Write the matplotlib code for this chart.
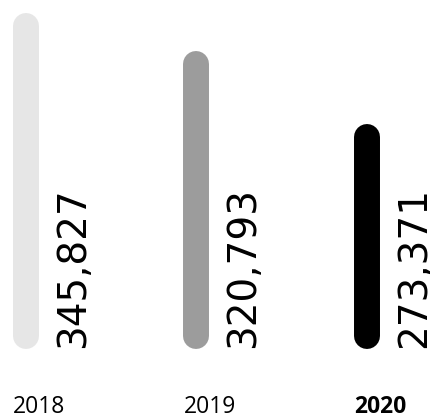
import matplotlib.pyplot as plt

# 数据
years = ['2018', '2019', '2020']
values = [345827, 320793, 273371]
colors = ['#e6e6e6', '#9c9c9c', '#000000']
bold_year = '2020'

base = 143000  # 柱子底部对应的数值

plt.rcParams['font.family'] = ['Open Sans', 'DejaVu Sans']

fig = plt.figure(figsize=(4.31, 4.19), dpi=100)
ax = fig.add_axes([0, 0, 1, 1])
ax.set_xlim(-0.1496, 2.378)
ax.set_ylim(89000, 362800)
ax.axis('off')

for i, v in enumerate(values):
    # 圆头竖条
    ax.plot([i, i], [base, v], color=colors[i], linewidth=18.7,
            solid_capstyle='round')
    ax.annotate(f'{v:,}', xy=(i, base), xytext=(20.5, -8.5),
                textcoords='offset points', rotation=90,
                ha='left', va='bottom', fontsize=28, color='black',
                family='DejaVu Sans')
    ax.annotate(years[i], xy=(i, 89000), xytext=(-9, 4.3),
                textcoords='offset points', ha='left', va='baseline',
                fontsize=16.5, color='black',
                fontweight='bold' if years[i] == bold_year else 'normal')

plt.savefig('out.png', dpi=100)
